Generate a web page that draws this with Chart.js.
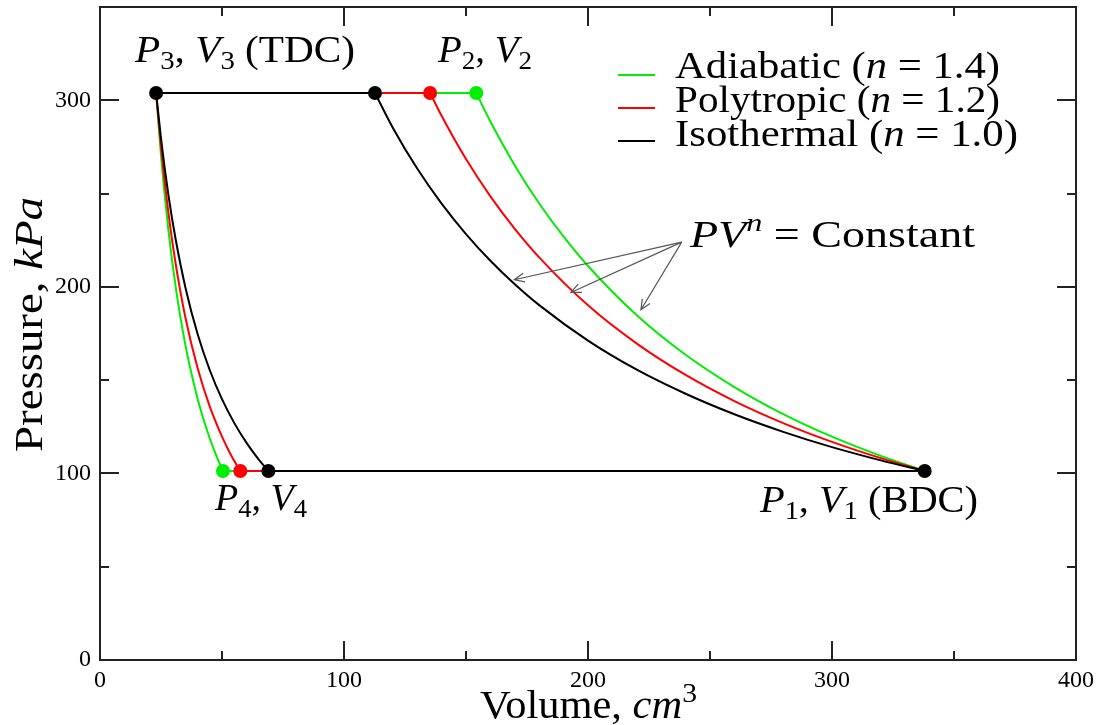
<!DOCTYPE html>
<html><head><meta charset="utf-8">
<script src="https://cdn.jsdelivr.net/npm/chart.js@4.4.1/dist/chart.umd.min.js"></script>
<style>html,body{margin:0;padding:0;background:#fff;overflow:hidden}#wrap{width:1108px;height:725px}</style>
</head><body>
<div id="wrap"><canvas id="c" width="1108" height="725"></canvas></div>
<script>
// ---------- data ----------
const xTicks = [0, 100, 200, 300, 400];
const yTicks = [0, 100, 200, 300];
const xMinor = [50, 150, 250, 350];
const yMinor = [50, 150, 250];
const xMajorInner = [100, 200, 300];
const yMajorInner = [100, 200, 300];

// compression 2 -> 1 (cm^3, kPa)
const volCompAdiabatic  = [154.2, 160, 170, 180, 190, 200, 220, 240, 260, 280, 300, 320, 338];
const presCompAdiabatic = [303.9, 288.6, 265.1, 244.7, 226.9, 211.2, 184.8, 163.6, 146.3, 131.8, 119.7, 109.4, 101.3];
const volCompPolytropic  = [135.3, 140, 150, 160, 170, 180, 200, 220, 240, 260, 280, 300, 320, 338];
const presCompPolytropic = [303.9, 291.7, 268.5, 248.5, 231.1, 215.8, 190.1, 169.6, 152.8, 138.8, 127.0, 116.9, 108.2, 101.3];
const volCompIsothermal  = [112.7, 120, 130, 140, 150, 160, 170, 180, 200, 220, 240, 260, 280, 300, 320, 338];
const presCompIsothermal = [303.9, 285.3, 263.4, 244.6, 228.3, 214.0, 201.4, 190.2, 171.2, 155.6, 142.7, 131.7, 122.3, 114.1, 107.0, 101.3];

// expansion 3 -> 4
const volExpAdiabatic  = [23, 25, 28, 31, 35, 40, 42, 45, 48, 50.4];
const presExpAdiabatic = [303.9, 270.4, 230.8, 200.1, 168.8, 140.0, 130.8, 118.7, 108.5, 101.3];
const volExpPolytropic  = [23, 25, 28, 31, 35, 40, 45, 50, 52, 54, 57.5];
const presExpPolytropic = [303.9, 275.0, 240.0, 212.4, 183.6, 156.5, 135.8, 119.7, 114.2, 109.1, 101.3];
const volExpIsothermal  = [23, 25, 28, 31, 35, 40, 45, 50, 55, 60, 65, 69];
const presExpIsothermal = [303.9, 279.6, 249.6, 225.5, 199.7, 174.7, 155.3, 139.8, 127.1, 116.5, 107.5, 101.3];

// state points: [V3, V2] on the high isobar, [V4, V1] on the low isobar
const pressureHigh = 303.9;
const pressureLow = 101.3;
const highVolAdiabatic  = [23, 154.2];
const lowVolAdiabatic   = [50.4, 338];
const highVolPolytropic = [23, 135.3];
const lowVolPolytropic  = [57.5, 338];
const highVolIsothermal = [23, 112.7];
const lowVolIsothermal  = [69, 338];

// annotation arrows (data units)
const arrowFrom = [238.4, 224.0];
const arrowTipV = [169.8, 193.0, 221.7];
const arrowTipP = [203.8, 197.0, 187.7];

const legendNames = ['Adiabatic', 'Polytropic', 'Isothermal'];
const legendN = ['1.4', '1.2', '1.0'];
const COLORS = {adi: '#00ee00', poly: '#ff0000', iso: '#000000'};
const legendColors = [COLORS.adi, COLORS.poly, COLORS.iso];

// ---------- helpers ----------
const FONT = "'Liberation Serif', 'Times New Roman', serif";
const zip = (xs, ys) => xs.map((x, i) => ({x: x, y: ys[i]}));
const flat = (xs, p) => xs.map(x => ({x: x, y: p}));

function drawRich(ctx, runs, x, y, size, width, rot) {
  const parts = runs.map(([t, s]) => {
    const small = (s === 'sub' || s === 'sup' || s === 'supi');
    const italic = (s === 'i' || s === 'supi');
    const fs = small ? size * 0.7 : size;
    const font = (italic ? 'italic ' : '') + fs + 'px ' + FONT;
    ctx.font = font;
    const w = ctx.measureText(t).width;
    const dy = s === 'sub' ? size * 0.2 : (small ? -size * 0.42 : 0);
    return {t, font, w, dy};
  });
  const total = parts.reduce((a, p) => a + p.w, 0);
  const sx = width ? width / total : 1;
  ctx.save();
  ctx.translate(x, y);
  if (rot) ctx.rotate(rot);
  ctx.scale(sx, 1);
  ctx.textBaseline = 'alphabetic';
  ctx.textAlign = 'left';
  ctx.fillStyle = '#000';
  let cx = 0;
  for (const p of parts) { ctx.font = p.font; ctx.fillText(p.t, cx, p.dy); cx += p.w; }
  ctx.restore();
}

const decorPlugin = {
  id: 'decor',
  afterDraw(chart) {
    const ctx = chart.ctx;
    const a = chart.chartArea;
    const xs = chart.scales.x, ys = chart.scales.y;
    ctx.save();
    // frame
    ctx.strokeStyle = '#222';
    ctx.lineWidth = 2;
    ctx.strokeRect(a.left, a.top, a.right - a.left, a.bottom - a.top);
    // inward ticks on all four sides
    ctx.beginPath();
    const maj = 19, mnr = 9;
    xMajorInner.forEach(v => { const p = Math.round(xs.getPixelForValue(v)); ctx.moveTo(p, a.bottom); ctx.lineTo(p, a.bottom - maj); ctx.moveTo(p, a.top); ctx.lineTo(p, a.top + maj); });
    xMinor.forEach(v => { const p = Math.round(xs.getPixelForValue(v)); ctx.moveTo(p, a.bottom); ctx.lineTo(p, a.bottom - mnr); ctx.moveTo(p, a.top); ctx.lineTo(p, a.top + mnr); });
    yMajorInner.forEach(v => { const p = Math.round(ys.getPixelForValue(v)); ctx.moveTo(a.left, p); ctx.lineTo(a.left + maj, p); ctx.moveTo(a.right, p); ctx.lineTo(a.right - maj, p); });
    yMinor.forEach(v => { const p = Math.round(ys.getPixelForValue(v)); ctx.moveTo(a.left, p); ctx.lineTo(a.left + mnr, p); ctx.moveTo(a.right, p); ctx.lineTo(a.right - mnr, p); });
    ctx.stroke();

    // arrows
    ctx.strokeStyle = '#555';
    ctx.lineWidth = 1.2;
    const ox = xs.getPixelForValue(arrowFrom[0]), oy = ys.getPixelForValue(arrowFrom[1]);
    arrowTipV.forEach((v, i) => {
      const tx = xs.getPixelForValue(v), ty = ys.getPixelForValue(arrowTipP[i]);
      const ang = Math.atan2(oy - ty, ox - tx);
      ctx.beginPath();
      ctx.moveTo(ox, oy); ctx.lineTo(tx, ty);
      const L = 11, s = 0.42;
      ctx.moveTo(tx + L * Math.cos(ang + s), ty + L * Math.sin(ang + s));
      ctx.lineTo(tx, ty);
      ctx.lineTo(tx + L * Math.cos(ang - s), ty + L * Math.sin(ang - s));
      ctx.stroke();
    });

    // legend
    legendNames.forEach((name, i) => {
      const ly = [75, 108, 141][i];
      ctx.strokeStyle = legendColors[i];
      ctx.lineWidth = 2;
      ctx.beginPath(); ctx.moveTo(618, ly); ctx.lineTo(655, ly); ctx.stroke();
      drawRich(ctx, [[name + ' (', ''], ['n', 'i'], [' = ' + legendN[i] + ')', '']], 675, [78, 112, 146][i], 37, [325, 325, 343][i]);
    });

    // point labels
    drawRich(ctx, [['P', 'i'], ['3', 'sub'], [', ', ''], ['V', 'i'], ['3', 'sub'], [' (TDC)', '']], 135, 62, 37, 220);
    drawRich(ctx, [['P', 'i'], ['2', 'sub'], [', ', ''], ['V', 'i'], ['2', 'sub']], 438, 62, 37, 94);
    drawRich(ctx, [['P', 'i'], ['4', 'sub'], [', ', ''], ['V', 'i'], ['4', 'sub']], 215, 510, 37, 92);
    drawRich(ctx, [['P', 'i'], ['1', 'sub'], [', ', ''], ['V', 'i'], ['1', 'sub'], [' (BDC)', '']], 760, 512, 37, 218);
    drawRich(ctx, [['PV', 'i'], ['n', 'supi'], [' = Constant', '']], 690, 247, 37, 285);

    // axis titles
    drawRich(ctx, [['Volume, ', ''], ['cm', 'i'], ['3', 'sup']], 480, 718, 39, 217);
    drawRich(ctx, [['Pressure, ', ''], ['kPa', 'i']], 42, 452, 39, 255, -Math.PI / 2);
    ctx.restore();
  }
};

// ---------- chart ----------
const curve = (label, data, color, order) => ({label, data, borderColor: color, backgroundColor: color, borderWidth: 2, showLine: true, pointRadius: 0, cubicInterpolationMode: 'monotone', fill: false, order});
const line = (label, data, color, order) => ({label, data, borderColor: color, backgroundColor: color, borderWidth: 2, showLine: true, pointRadius: 0, tension: 0, fill: false, order});
const dots = (label, data, color, order) => ({label, data, backgroundColor: color, borderColor: color, borderWidth: 0, showLine: false, pointRadius: 7, pointHoverRadius: 7, order});

const datasets = [
  curve('Adiabatic compression', zip(volCompAdiabatic, presCompAdiabatic), COLORS.adi, 30),
  curve('Adiabatic expansion', zip(volExpAdiabatic, presExpAdiabatic), COLORS.adi, 30),
  line('Adiabatic high isobar', flat(highVolAdiabatic, pressureHigh), COLORS.adi, 30),
  line('Adiabatic low isobar', flat(lowVolAdiabatic, pressureLow), COLORS.adi, 30),
  curve('Polytropic compression', zip(volCompPolytropic, presCompPolytropic), COLORS.poly, 20),
  curve('Polytropic expansion', zip(volExpPolytropic, presExpPolytropic), COLORS.poly, 20),
  line('Polytropic high isobar', flat(highVolPolytropic, pressureHigh), COLORS.poly, 20),
  line('Polytropic low isobar', flat(lowVolPolytropic, pressureLow), COLORS.poly, 20),
  curve('Isothermal compression', zip(volCompIsothermal, presCompIsothermal), COLORS.iso, 10),
  curve('Isothermal expansion', zip(volExpIsothermal, presExpIsothermal), COLORS.iso, 10),
  line('Isothermal high isobar', flat(highVolIsothermal, pressureHigh), COLORS.iso, 10),
  line('Isothermal low isobar', flat(lowVolIsothermal, pressureLow), COLORS.iso, 10),
  dots('Adiabatic states', [{x: highVolAdiabatic[1], y: pressureHigh}, {x: lowVolAdiabatic[0], y: pressureLow}], COLORS.adi, 3),
  dots('Polytropic states', [{x: highVolPolytropic[1], y: pressureHigh}, {x: lowVolPolytropic[0], y: pressureLow}], COLORS.poly, 2),
  dots('Isothermal states', [{x: highVolIsothermal[0], y: pressureHigh}, {x: highVolIsothermal[1], y: pressureHigh}, {x: lowVolIsothermal[0], y: pressureLow}, {x: lowVolIsothermal[1], y: pressureLow}], COLORS.iso, 1)
];

new Chart(document.getElementById('c').getContext('2d'), {
  type: 'scatter',
  data: {datasets},
  options: {
    responsive: false,
    animation: false,
    devicePixelRatio: 1,
    events: [],
    layout: {padding: {left: 0, top: 6, right: 32, bottom: 0}},
    plugins: {legend: {display: false}, tooltip: {enabled: false}},
    scales: {
      x: {
        type: 'linear', min: 0, max: 400,
        afterBuildTicks(s) { s.ticks = xTicks.map(v => ({value: v})); },
        ticks: {stepSize: 100, includeBounds: false, padding: 6, color: '#000', maxRotation: 0, autoSkip: false, font: {family: FONT, size: 24}},
        grid: {display: false, drawTicks: false},
        border: {display: false},
        afterFit(s) { s.height = 65; s.paddingLeft = 0; s.paddingRight = 0; s.paddingTop = 0; s.paddingBottom = 0; }
      },
      y: {
        type: 'linear', min: 0, max: 350,
        afterBuildTicks(s) { s.ticks = yTicks.map(v => ({value: v})); },
        ticks: {stepSize: 100, includeBounds: false, padding: 9, color: '#000', autoSkip: false, font: {family: FONT, size: 24}},
        grid: {display: false, drawTicks: false},
        border: {display: false},
        afterFit(s) { s.width = 100; s.paddingLeft = 0; s.paddingRight = 0; s.paddingTop = 0; s.paddingBottom = 0; }
      }
    }
  },
  plugins: [decorPlugin]
});
</script>
</body></html>
